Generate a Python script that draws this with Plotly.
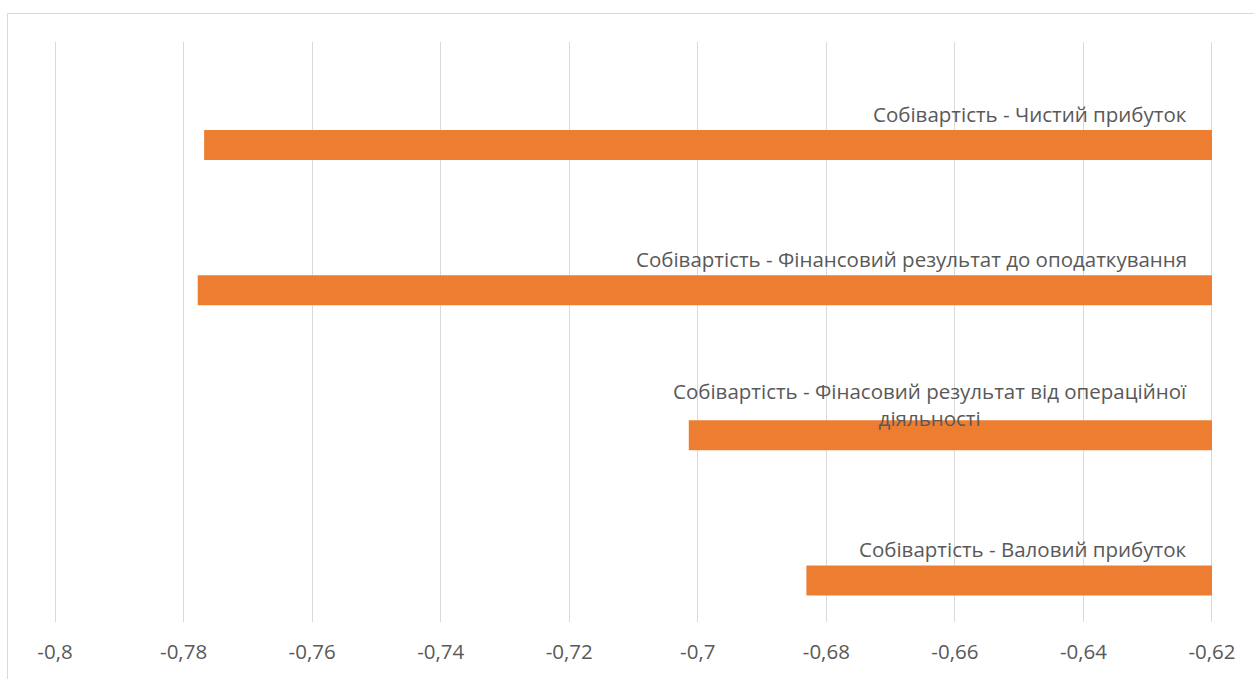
import plotly.graph_objects as go

# Correlation coefficients of cost of goods (Собівартість) with financial indicators
categories = [
    "Чистий прибуток",
    "Фінансовий результат до оподаткування",
    "Фінасовий результат від операційної діяльності",
    "Валовий прибуток",
]
labels = [
    "Собівартість - Чистий прибуток",
    "Собівартість - Фінансовий результат до оподаткування",
    "Собівартість - Фінасовий результат від операційної<br>діяльності",
    "Собівартість - Валовий прибуток",
]
values = [-0.7768, -0.7778, -0.7014, -0.6831]

axis_base = -0.62
tick_vals = [-0.8, -0.78, -0.76, -0.74, -0.72, -0.7, -0.68, -0.66, -0.64, -0.62]
tick_text = ["-0,8", "-0,78", "-0,76", "-0,74", "-0,72", "-0,7", "-0,68", "-0,66", "-0,64", "-0,62"]

ORANGE = "#ED7D31"
GRID = "#D9D9D9"
TEXT = "#595959"
FONT = "Open Sans"

fig = go.Figure(
    go.Bar(
        y=categories,
        x=[v - axis_base for v in values],
        base=axis_base,
        orientation="h",
        width=0.207,
        marker=dict(color=ORANGE, line=dict(width=0)),
        hoverinfo="skip",
    )
)

for cat, lab in zip(categories, labels):
    fig.add_annotation(
        x=axis_base, y=cat, xref="x", yref="y",
        text=lab, showarrow=False,
        xanchor="right", yanchor="middle", align="center",
        xshift=-23, yshift=31,
        font=dict(family=FONT, size=20.5, color=TEXT),
    )

# light chart-area frame
fig.add_shape(
    type="rect", xref="paper", yref="paper",
    x0=-0.0319, x1=1.05, y0=-0.2, y1=1.0491,
    line=dict(color=GRID, width=1), fillcolor="rgba(0,0,0,0)", layer="below",
)

fig.update_layout(
    width=1254, height=679,
    margin=dict(l=45, r=32, t=42, b=57),
    paper_bgcolor="white", plot_bgcolor="white",
    showlegend=False,
    font=dict(family=FONT, color=TEXT),
    xaxis=dict(
        range=[-0.80156, -0.61844],
        tickvals=tick_vals, ticktext=tick_text,
        showgrid=True, gridcolor=GRID, gridwidth=1,
        zeroline=False, showline=False, ticks="",
        tickfont=dict(family=FONT, size=20.5, color=TEXT),
        ticklabelstandoff=15,
    ),
    yaxis=dict(
        categoryorder="array", categoryarray=categories,
        range=[3.286, -0.710],
        showticklabels=False, showgrid=False, zeroline=False, showline=False, ticks="",
    ),
)

fig.write_html("out.html")
